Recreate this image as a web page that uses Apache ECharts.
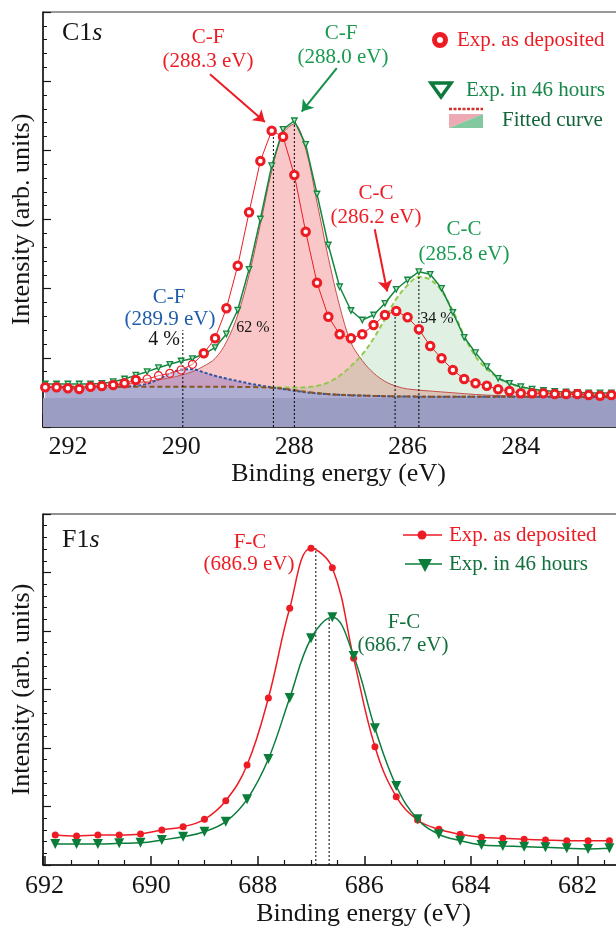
<!DOCTYPE html>
<html>
<head>
<meta charset="utf-8">
<script src="https://cdn.jsdelivr.net/npm/echarts@6/dist/echarts.min.js"></script>
<style>
  html, body { margin: 0; padding: 0; background: #fff; }
  #chart { width: 616px; height: 928px; }
</style>
</head>
<body>
<div id="chart"></div>
<script>
// ---- C1s panel (top) ----
const c1sEnergy = [292.4, 292.2, 292.0, 291.8, 291.6, 291.4, 291.2, 291.0, 290.8, 290.6,
  290.4, 290.2, 290.0, 289.8, 289.6, 289.4, 289.2, 289.0, 288.8, 288.6,
  288.4, 288.2, 288.0, 287.8, 287.6, 287.4, 287.2, 287.0, 286.8, 286.6,
  286.4, 286.2, 286.0, 285.8, 285.6, 285.4, 285.2, 285.0, 284.8, 284.6,
  284.4, 284.2, 284.0, 283.8, 283.6, 283.4, 283.2, 283.0, 282.8, 282.6, 282.4];
const c1sDeposited = [0.574, 0.574, 0.560, 0.549, 0.583, 0.593, 0.607, 0.632, 0.679, 0.694,
  0.742, 0.776, 0.824, 0.906, 1.066, 1.282, 1.716, 2.332, 3.104, 3.846,
  4.284, 4.197, 3.643, 2.824, 2.086, 1.595, 1.340, 1.282, 1.340, 1.475,
  1.619, 1.677, 1.586, 1.412, 1.171, 0.993, 0.824, 0.694, 0.632, 0.597,
  0.545, 0.520, 0.487, 0.487, 0.487, 0.477, 0.477, 0.477, 0.463, 0.453, 0.463];
const c1s46h = [0.622, 0.622, 0.622, 0.622, 0.622, 0.630, 0.655, 0.694, 0.750, 0.800,
  0.857, 0.906, 0.954, 0.990, 1.055, 1.149, 1.345, 1.691, 2.280, 3.007,
  3.778, 4.304, 4.428, 4.087, 3.369, 2.631, 2.028, 1.684, 1.547, 1.619,
  1.788, 1.991, 2.125, 2.245, 2.208, 2.005, 1.658, 1.297, 1.074, 0.872,
  0.704, 0.632, 0.583, 0.549, 0.528, 0.513, 0.506, 0.499, 0.492, 0.492, 0.492];
// points drawn as thin open circles
const c1sThin = [290.6, 290.4, 290.2, 290.0, 289.8];

// fitted components [energy, intensity]
const fitCF288 = [[292.4, 0.585], [291.6, 0.59], [291.2, 0.60], [291.0, 0.62], [290.6, 0.66],
  [290.2, 0.71], [290.0, 0.75], [289.8, 0.80], [289.6, 0.88], [289.4, 0.99], [289.2, 1.23],
  [289.0, 1.62], [288.8, 2.20], [288.6, 2.93], [288.4, 3.70], [288.2, 4.24], [288.0, 4.38],
  [287.8, 4.02], [287.6, 3.25], [287.4, 2.45], [287.2, 1.75], [287.0, 1.22], [286.8, 0.96],
  [286.6, 0.78], [286.4, 0.66], [286.2, 0.59], [286.0, 0.55], [285.6, 0.52], [285.2, 0.495],
  [284.8, 0.47], [284.4, 0.455], [284.0, 0.445], [283.2, 0.438], [282.4, 0.435]];
const fitCC = [[288.6, 0.578], [288.2, 0.572], [288.0, 0.57], [287.8, 0.575], [287.6, 0.595],
  [287.4, 0.645], [287.2, 0.74], [287.0, 0.88], [286.8, 1.05], [286.6, 1.28], [286.4, 1.56],
  [286.2, 1.85], [286.0, 2.05], [285.8, 2.17], [285.6, 2.13], [285.4, 1.97], [285.2, 1.68],
  [285.0, 1.32], [284.8, 1.02], [284.6, 0.84], [284.4, 0.71], [284.2, 0.63], [284.0, 0.58],
  [283.6, 0.51], [283.2, 0.48], [282.8, 0.465], [282.4, 0.455]];
const fitCF290 = [[291.2, 0.583], [291.0, 0.585], [290.8, 0.595], [290.6, 0.625], [290.4, 0.69],
  [290.2, 0.77], [290.0, 0.83], [289.8, 0.835], [289.6, 0.79], [289.4, 0.74], [289.2, 0.70],
  [289.0, 0.665], [288.8, 0.63], [288.6, 0.60], [288.4, 0.574], [288.2, 0.55], [288.0, 0.525],
  [287.6, 0.485], [287.0, 0.46], [286.0, 0.44], [284.0, 0.437], [282.4, 0.435]];
const fitBackground = [[292.4, 0.583], [290.0, 0.583], [289.0, 0.58], [288.6, 0.575],
  [288.2, 0.555], [288.0, 0.53], [287.6, 0.49], [287.2, 0.465], [286.6, 0.45], [286.0, 0.44],
  [285.0, 0.438], [284.0, 0.437], [282.4, 0.435]];
const baseLevel = 0.42;

// peak markers [energy, height of dotted line]
const c1sDrops = [[289.97, 1.40], [288.37, 4.25], [288.0, 4.41], [286.22, 1.64], [285.8, 2.17]];
// arrows [fromE, fromI, toE, toI, colour]
const c1sArrows = [[289.49, 5.10, 288.52, 4.41, '#ed1c24'],
  [287.25, 5.19, 287.87, 4.56, '#13914a'],
  [286.58, 2.86, 286.36, 1.96, '#ed1c24']];

// ---- F1s panel (bottom) ----
const f1sEnergy = [691.8, 691.4, 691.0, 690.6, 690.2, 689.8, 689.4, 689.0, 688.6, 688.2,
  687.8, 687.4, 687.0, 686.6, 686.2, 685.8, 685.4, 685.0, 684.6, 684.2,
  683.8, 683.4, 683.0, 682.6, 682.2, 681.8, 681.4];
const f1sDeposited = [0.513, 0.496, 0.513, 0.513, 0.530, 0.598, 0.655, 0.781, 1.099, 1.709,
  2.855, 4.388, 5.414, 5.082, 3.533, 2.022, 1.168, 0.769, 0.610, 0.525,
  0.474, 0.456, 0.439, 0.427, 0.415, 0.415, 0.415];
const f1s46h = [0.359, 0.359, 0.359, 0.371, 0.381, 0.427, 0.484, 0.569, 0.740, 1.123,
  1.812, 2.855, 3.875, 4.234, 3.573, 2.337, 1.350, 0.781, 0.525, 0.415,
  0.342, 0.325, 0.313, 0.303, 0.285, 0.274, 0.285];
const f1sDrops = [[686.91, 5.42], [686.66, 4.23]];

const RED = '#ed1c24';
const GREEN = '#13873f';
const INK = '#151515';
const serif = '"Liberation Serif", "DejaVu Serif", serif';

const chart = echarts.init(document.getElementById('chart'));

function xAxis(gridIndex, min, max, tickLen, minorLen, margin, nameGap) {
  return {
    type: 'value', gridIndex: gridIndex, min: min, max: max, interval: 2, inverse: true,
    name: 'Binding energy (eV)', nameLocation: 'middle', nameGap: nameGap,
    nameTextStyle: { fontFamily: serif, fontSize: 26, color: INK },
    axisLine: { onZero: false, lineStyle: { color: INK, width: 1.5 } },
    axisTick: { inside: true, length: tickLen, lineStyle: { color: INK, width: 1.5 } },
    minorTick: { show: true, splitNumber: 4, length: minorLen, lineStyle: { color: INK, width: 1.2 } },
    axisLabel: { interval: 0, showMinLabel: false, showMaxLabel: false, margin: margin,
      fontFamily: serif, fontSize: 26, color: INK },
    splitLine: { show: false }
  };
}

function yAxis(gridIndex) {
  return {
    type: 'value', gridIndex: gridIndex, min: 0, max: 6, interval: 1,
    name: 'Intensity (arb. units)', nameLocation: 'middle', nameGap: 8, nameRotate: 90,
    nameTextStyle: { fontFamily: serif, fontSize: 26, color: INK },
    axisLine: { show: true, onZero: false, lineStyle: { color: INK, width: 1.5 } },
    axisTick: { show: true, inside: true, length: 8, lineStyle: { color: INK, width: 1.2 } },
    minorTick: { show: true, splitNumber: 5, length: 4, lineStyle: { color: INK, width: 1 } },
    axisLabel: { show: false },
    splitLine: { show: false }
  };
}

function fit(data, lineStyle, areaColor) {
  return {
    type: 'line', xAxisIndex: 0, yAxisIndex: 0, data: data, smooth: 0.35,
    symbol: 'none', lineStyle: lineStyle, areaStyle: { color: areaColor, opacity: 1 }
  };
}

function drops(list, axis) {
  return list.map(function (d) {
    return {
      type: 'line', xAxisIndex: axis, yAxisIndex: axis, symbol: 'none',
      data: [[d[0], 0], [d[0], d[1]]],
      lineStyle: { color: '#000', width: 1, type: [2, 2] }
    };
  });
}

const series = [
  fit(fitCF288, { color: '#c4504f', width: 1 }, 'rgba(235,80,80,0.32)'),
  fit(fitCC, { color: '#93c94a', width: 2, type: [5, 3] }, 'rgba(100,180,110,0.2)'),
  fit(fitCF290, { color: '#2b52a3', width: 2, type: [3, 2] }, 'rgba(100,90,190,0.35)'),
  fit(fitBackground, { color: '#8b5222', width: 2, type: [5, 3] }, '#adaed2'),
  {
    type: 'line', xAxisIndex: 0, yAxisIndex: 0, symbol: 'none',
    data: [[292.44, baseLevel], [282, baseLevel]],
    lineStyle: { width: 0 }, areaStyle: { color: '#9b9dc3', opacity: 1 }
  }
].concat(drops(c1sDrops, 0)).concat([
  {
    type: 'line', xAxisIndex: 0, yAxisIndex: 0,
    data: c1sEnergy.map(function (e, i) { return [e, c1s46h[i]]; }),
    symbol: 'triangle', symbolRotate: 180, symbolSize: 5.5,
    itemStyle: { color: 'rgba(190,225,200,0.9)', borderColor: GREEN, borderWidth: 1.3 },
    lineStyle: { color: GREEN, width: 1.5 }
  },
  {
    type: 'line', xAxisIndex: 0, yAxisIndex: 0, z: 3,
    data: c1sEnergy.map(function (e, i) {
      const p = { value: [e, c1sDeposited[i]] };
      if (c1sThin.indexOf(e) >= 0) {
        p.symbolSize = 8;
        p.itemStyle = { color: 'rgba(255,255,255,0.35)', borderWidth: 1.2 };
      }
      return p;
    }),
    symbol: 'circle', symbolSize: 7.5,
    itemStyle: { color: '#fff', borderColor: RED, borderWidth: 3 },
    lineStyle: { color: RED, width: 1 },
    markLine: {
      silent: true, symbol: ['none', 'arrow'], symbolSize: 11, label: { show: false },
      data: c1sArrows.map(function (a) {
        return [{ coord: [a[0], a[1]], lineStyle: { color: a[4], width: 2, type: 'solid' } },
          { coord: [a[2], a[3]] }];
      })
    }
  }
]).concat(drops(f1sDrops, 1)).concat([
  {
    type: 'line', xAxisIndex: 1, yAxisIndex: 1, smooth: 0.4,
    data: f1sEnergy.map(function (e, i) { return [e, f1sDeposited[i]]; }),
    symbol: 'circle', symbolSize: 7,
    itemStyle: { color: RED },
    lineStyle: { color: RED, width: 1.5 }
  },
  {
    type: 'line', xAxisIndex: 1, yAxisIndex: 1, smooth: 0.4,
    data: f1sEnergy.map(function (e, i) { return [e, f1s46h[i]]; }),
    symbol: 'triangle', symbolRotate: 180, symbolSize: 10,
    itemStyle: { color: '#0b7d3a' },
    lineStyle: { color: '#0b7d3a', width: 1.5 }
  }
]);

function txt(x, y, text, color, size, align) {
  return {
    type: 'text', x: x, y: y, z: 100,
    style: { text: text, fill: color, font: size + 'px ' + serif,
      textAlign: align || 'center', textVerticalAlign: 'middle' }
  };
}

function title(x, y, main) {
  return {
    type: 'text', x: x, y: y, z: 100,
    style: {
      text: '{n|' + main + '}{i|s}', textAlign: 'left', textVerticalAlign: 'middle',
      rich: {
        n: { fontFamily: serif, fontSize: 26, fill: INK, color: INK },
        i: { fontFamily: serif, fontSize: 26, fontStyle: 'italic', fill: INK, color: INK }
      }
    }
  };
}

const graphics = [
  title(62, 33, 'C1'),
  txt(208, 37, 'C-F', RED, 21), txt(208, 61, '(288.3 eV)', RED, 21),
  txt(341, 33, 'C-F', '#189a4f', 21), txt(343, 57, '(288.0 eV)', '#189a4f', 21),
  txt(376, 193, 'C-C', RED, 21), txt(376, 217, '(286.2 eV)', RED, 21),
  txt(464, 229, 'C-C', '#189a4f', 21), txt(464, 254, '(285.8 eV)', '#189a4f', 21),
  txt(169, 297, 'C-F', '#1f5dab', 21), txt(170, 319, '(289.9 eV)', '#1f5dab', 21),
  txt(164, 340, '4 %', INK, 20), txt(253, 328, '62 %', INK, 16), txt(437, 319, '34 %', INK, 16),
  // legend C1s
  { type: 'circle', z: 100, shape: { cx: 440, cy: 40, r: 5.5 }, style: { fill: '#fff', stroke: RED, lineWidth: 5 } },
  txt(457, 40, 'Exp. as deposited', RED, 21, 'left'),
  { type: 'polygon', z: 100, shape: { points: [[431, 83], [451, 83], [441, 97]] },
    style: { fill: '#fff', stroke: '#0d7a3c', lineWidth: 3.5, lineJoin: 'miter' } },
  txt(466, 90, 'Exp. in 46 hours', '#17864a', 21, 'left'),
  { type: 'line', z: 100, shape: { x1: 449, y1: 109, x2: 483, y2: 109 },
    style: { stroke: '#d0302a', lineWidth: 2.5, lineDash: [3, 1.5] } },
  { type: 'polygon', z: 100, shape: { points: [[449, 114], [483, 114], [449, 128]] }, style: { fill: '#eeaab4' } },
  { type: 'polygon', z: 100, shape: { points: [[483, 114], [483, 128], [449, 128]] }, style: { fill: '#82c9a0' } },
  txt(502, 120, 'Fitted curve', '#12653a', 21, 'left'),
  // F1s panel
  title(62, 540, 'F1'),
  txt(250, 542, 'F-C', RED, 21), txt(249, 564, '(686.9 eV)', RED, 21),
  txt(404, 622, 'F-C', '#11703c', 21), txt(403, 645, '(686.7 eV)', '#11703c', 21),
  { type: 'line', z: 100, shape: { x1: 403, y1: 535, x2: 442, y2: 535 }, style: { stroke: RED, lineWidth: 1.5 } },
  { type: 'circle', z: 100, shape: { cx: 422, cy: 535, r: 4.5 }, style: { fill: RED } },
  txt(449, 535, 'Exp. as deposited', RED, 21, 'left'),
  { type: 'line', z: 100, shape: { x1: 405, y1: 564, x2: 442, y2: 564 }, style: { stroke: '#0b7d3a', lineWidth: 1.5 } },
  { type: 'polygon', z: 100, shape: { points: [[418, 559], [432, 559], [425, 572]] }, style: { fill: '#0b7d3a' } },
  txt(449, 564, 'Exp. in 46 hours', '#11703c', 21, 'left')
];

chart.setOption({
  animation: false,
  backgroundColor: '#fff',
  grid: [
    { left: 43, top: 12, width: 591, height: 415, show: true, borderColor: '#333', borderWidth: 1,
      outerBoundsMode: 'none' },
    { left: 43, top: 514, width: 641, height: 351, show: true, borderColor: '#222', borderWidth: 1,
      outerBoundsMode: 'none' }
  ],
  xAxis: [xAxis(0, 282, 292.44, 13, 6, 7, 25), xAxis(1, 680, 692.03, 9, 5, 8, 36)],
  yAxis: [yAxis(0), yAxis(1)],
  series: series,
  graphic: graphics
});
</script>
</body>
</html>
